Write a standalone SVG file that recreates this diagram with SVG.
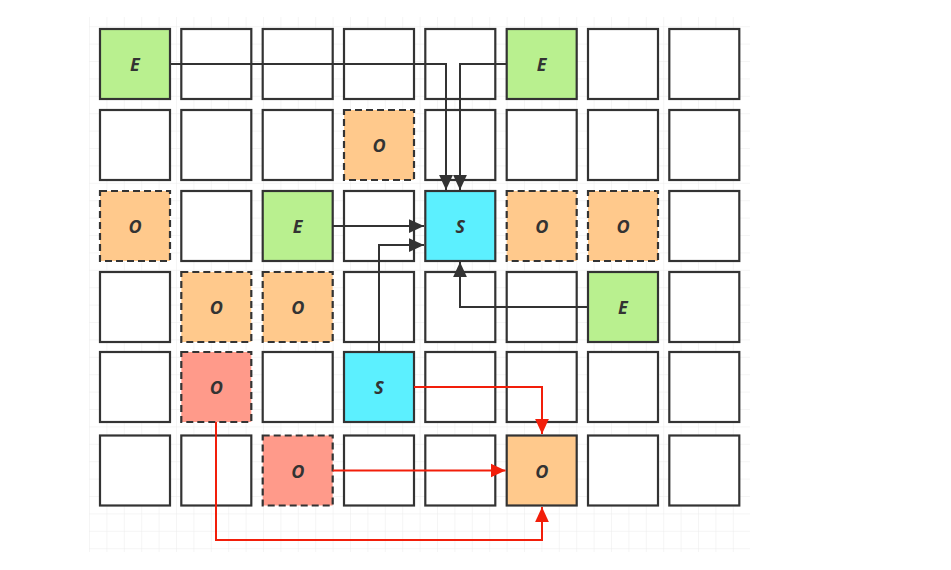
<svg xmlns="http://www.w3.org/2000/svg" width="951" height="570" viewBox="0 0 951 570">
<style>
.c{stroke:#333;stroke-width:2.2;}
.w{fill:#fff;}
.g{fill:#b9f08f;}
.o{fill:#ffc98c;}
.s{fill:#5cf0ff;}
.r{fill:#ff9a8a;}
.d{stroke-dasharray:7 4;}
.t{font-family:"Open Sans","Liberation Sans",sans-serif;font-weight:bold;font-style:italic;font-size:18px;fill:#333;text-anchor:middle;dominant-baseline:central;}
.k{fill:none;stroke:#333;stroke-width:2;}
.rd{fill:none;stroke:#f21e0a;stroke-width:2;}
</style>
<defs>
<pattern id="grid" x="89" y="8.8" width="17.4" height="17.4" patternUnits="userSpaceOnUse">
<path d="M0 0V17.4M0 0H17.4" fill="none" stroke="#ececec" stroke-width="1"/>
</pattern>
<marker id="abk" viewBox="0 0 12 12" refX="12" refY="6" markerWidth="15" markerHeight="15" markerUnits="userSpaceOnUse" orient="auto">
<path d="M0 0.5L12 6L0 11.5z" fill="#333"/>
</marker>
<marker id="ark" viewBox="0 0 12 12" refX="12" refY="6" markerWidth="15" markerHeight="15" markerUnits="userSpaceOnUse" orient="auto">
<path d="M0 0.5L12 6L0 11.5z" fill="#f21e0a"/>
</marker>
</defs>
<rect width="951" height="570" fill="#fff"/>
<rect x="89" y="17" width="661" height="535" fill="url(#grid)"/>

<!-- row 0 -->
<g id="n00"><rect class="c g" x="100" y="29" width="70" height="70"/><text class="t" x="135" y="64">E</text></g>
<g id="n01"><rect class="c w" x="181.3" y="29" width="70" height="70"/></g>
<g id="n02"><rect class="c w" x="262.7" y="29" width="70" height="70"/></g>
<g id="n03"><rect class="c w" x="344" y="29" width="70" height="70"/></g>
<g id="n04"><rect class="c w" x="425.3" y="29" width="70" height="70"/></g>
<g id="n05"><rect class="c g" x="506.7" y="29" width="70" height="70"/><text class="t" x="541.7" y="64">E</text></g>
<g id="n06"><rect class="c w" x="588" y="29" width="70" height="70"/></g>
<g id="n07"><rect class="c w" x="669.3" y="29" width="70" height="70"/></g>
<!-- row 1 -->
<g id="n10"><rect class="c w" x="100" y="110" width="70" height="70"/></g>
<g id="n11"><rect class="c w" x="181.3" y="110" width="70" height="70"/></g>
<g id="n12"><rect class="c w" x="262.7" y="110" width="70" height="70"/></g>
<g id="n13"><rect class="c o d" x="344" y="110" width="70" height="70"/><text class="t" x="379" y="145">O</text></g>
<g id="n14"><rect class="c w" x="425.3" y="110" width="70" height="70"/></g>
<g id="n15"><rect class="c w" x="506.7" y="110" width="70" height="70"/></g>
<g id="n16"><rect class="c w" x="588" y="110" width="70" height="70"/></g>
<g id="n17"><rect class="c w" x="669.3" y="110" width="70" height="70"/></g>
<!-- row 2 -->
<g id="n20"><rect class="c o d" x="100" y="191" width="70" height="70"/><text class="t" x="135" y="226">O</text></g>
<g id="n21"><rect class="c w" x="181.3" y="191" width="70" height="70"/></g>
<g id="n22"><rect class="c g" x="262.7" y="191" width="70" height="70"/><text class="t" x="297.7" y="226">E</text></g>
<g id="n23"><rect class="c w" x="344" y="191" width="70" height="70"/></g>
<g id="n24"><rect class="c s" x="425.3" y="191" width="70" height="70"/><text class="t" x="460.3" y="226">S</text></g>
<g id="n25"><rect class="c o d" x="506.7" y="191" width="70" height="70"/><text class="t" x="541.7" y="226">O</text></g>
<g id="n26"><rect class="c o d" x="588" y="191" width="70" height="70"/><text class="t" x="623" y="226">O</text></g>
<g id="n27"><rect class="c w" x="669.3" y="191" width="70" height="70"/></g>
<!-- row 3 -->
<g id="n30"><rect class="c w" x="100" y="272" width="70" height="70"/></g>
<g id="n31"><rect class="c o d" x="181.3" y="272" width="70" height="70"/><text class="t" x="216.3" y="307">O</text></g>
<g id="n32"><rect class="c o d" x="262.7" y="272" width="70" height="70"/><text class="t" x="297.7" y="307">O</text></g>
<g id="n33"><rect class="c w" x="344" y="272" width="70" height="70"/></g>
<g id="n34"><rect class="c w" x="425.3" y="272" width="70" height="70"/></g>
<g id="n35"><rect class="c w" x="506.7" y="272" width="70" height="70"/></g>
<g id="n36"><rect class="c g" x="588" y="272" width="70" height="70"/><text class="t" x="623" y="307">E</text></g>
<g id="n37"><rect class="c w" x="669.3" y="272" width="70" height="70"/></g>
<!-- row 4 -->
<g id="n40"><rect class="c w" x="100" y="352" width="70" height="70"/></g>
<g id="n41"><rect class="c r d" x="181.3" y="352" width="70" height="70"/><text class="t" x="216.3" y="387">O</text></g>
<g id="n42"><rect class="c w" x="262.7" y="352" width="70" height="70"/></g>
<g id="n43"><rect class="c s" x="344" y="352" width="70" height="70"/><text class="t" x="379" y="387">S</text></g>
<g id="n44"><rect class="c w" x="425.3" y="352" width="70" height="70"/></g>
<g id="n45"><rect class="c w" x="506.7" y="352" width="70" height="70"/></g>
<g id="n46"><rect class="c w" x="588" y="352" width="70" height="70"/></g>
<g id="n47"><rect class="c w" x="669.3" y="352" width="70" height="70"/></g>
<!-- row 5 -->
<g id="n50"><rect class="c w" x="100" y="435.5" width="70" height="70"/></g>
<g id="n51"><rect class="c w" x="181.3" y="435.5" width="70" height="70"/></g>
<g id="n52"><rect class="c r d" x="262.7" y="435.5" width="70" height="70"/><text class="t" x="297.7" y="470.5">O</text></g>
<g id="n53"><rect class="c w" x="344" y="435.5" width="70" height="70"/></g>
<g id="n54"><rect class="c w" x="425.3" y="435.5" width="70" height="70"/></g>
<g id="n55"><rect class="c o" x="506.7" y="435.5" width="70" height="70"/><text class="t" x="541.7" y="470.5">O</text></g>
<g id="n56"><rect class="c w" x="588" y="435.5" width="70" height="70"/></g>
<g id="n57"><rect class="c w" x="669.3" y="435.5" width="70" height="70"/></g>

<g id="connectors">
<path class="k" d="M170 64H446V190" marker-end="url(#abk)"/>
<path class="k" d="M506.7 64H460V190" marker-end="url(#abk)"/>
<path class="k" d="M332.7 226H424" marker-end="url(#abk)"/>
<path class="k" d="M379 352V245H424" marker-end="url(#abk)"/>
<path class="k" d="M588 307H460V262" marker-end="url(#abk)"/>
<path class="rd" d="M414 387H542V434" marker-end="url(#ark)"/>
<path class="rd" d="M332.7 470.5H505.5" marker-end="url(#ark)"/>
<path class="rd" d="M216 422V540H542V507" marker-end="url(#ark)"/>
</g>
</svg>
